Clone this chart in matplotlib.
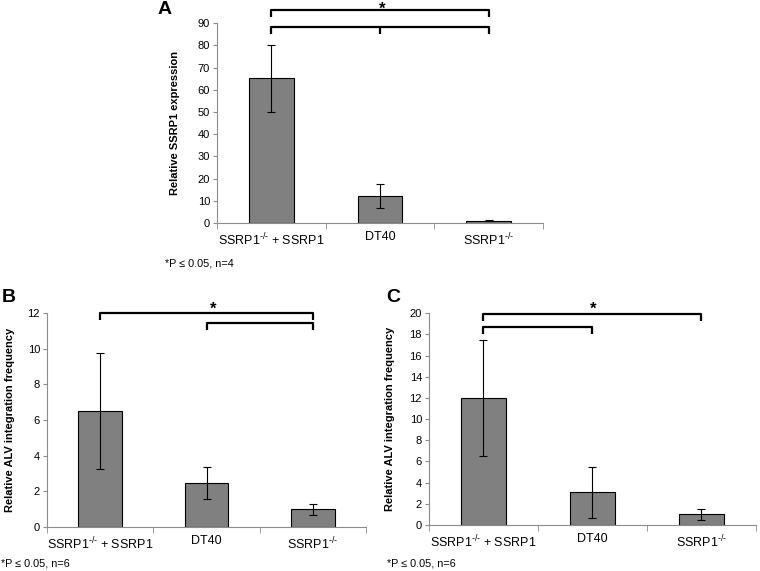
import matplotlib
matplotlib.use("Agg")
import matplotlib.pyplot as plt
import numpy as np

plt.rcParams['font.family'] = ['Liberation Sans', 'DejaVu Sans']
plt.rcParams['mathtext.fontset'] = 'custom'
plt.rcParams['mathtext.rm'] = 'Liberation Sans'
plt.rcParams['mathtext.it'] = 'Liberation Sans'

categories = ["SSRP1$^{\\text{-/-}}$ + SSRP1", "DT40", "SSRP1$^{\\text{-/-}}$"]

a_values = [65.2, 12.3, 1.0]
a_errors = [15.0, 5.4, 0.3]
b_values = [6.5, 2.45, 1.0]
b_errors = [3.25, 0.9, 0.3]
c_values = [12.0, 3.1, 1.0]
c_errors = [5.5, 2.4, 0.5]

a_yticks = list(range(0, 91, 10))
b_yticks = list(range(0, 13, 2))
c_yticks = list(range(0, 21, 2))

BAR = "#808080"
AXC = "#8c8c8c"

fig = plt.figure(figsize=(7.6, 5.71), dpi=100)

def panel(rect, values, errors, yticks, ylabel, labelx):
    ax = fig.add_axes(rect)
    x = np.arange(len(values))
    ax.bar(x, values, width=0.41, color=BAR, edgecolor="black", linewidth=0.8, zorder=2)
    ax.errorbar(x, values, yerr=errors, fmt="none", ecolor="black", elinewidth=0.8,
                capsize=3, capthick=0.8, zorder=3)
    ax.set_xlim(-0.5, 2.5)
    ax.set_ylim(yticks[0], yticks[-1])
    ax.set_yticks(yticks)
    ax.set_xticks(x)
    ax.set_xticklabels(categories, fontsize=9)
    ax.tick_params(axis='x', which='major', length=0, pad=6)
    ax.set_xticks([-0.5, 0.5, 1.5, 2.5], minor=True)
    ax.tick_params(axis='x', which='minor', length=4, color=AXC, direction='out')
    ax.tick_params(axis='y', labelsize=8, length=3, color=AXC, pad=2)
    for s in ["top", "right"]:
        ax.spines[s].set_visible(False)
    for s in ["left", "bottom"]:
        ax.spines[s].set_color(AXC)
        ax.spines[s].set_linewidth(0.8)
    ax.set_ylabel(ylabel, fontsize=8, fontweight='bold')
    ax.yaxis.set_label_coords(labelx, 0.5)
    return ax

def bracket(ax, x0, x1, y, h, mids=()):
    kw = dict(color="black", lw=1.6, clip_on=False, solid_capstyle='butt', zorder=5)
    ax.plot([x0, x0, x1, x1], [y - h, y, y, y - h], **kw)
    for m in mids:
        ax.plot([m, m], [y, y - h], **kw)

axA = panel([0.2855, 0.6095, 0.429, 0.350], a_values, a_errors, a_yticks,
            "Relative SSRP1 expression", -0.113)
bracket(axA, 0, 2, 95.9, 3.0)
bracket(axA, 0, 2, 88.2, 3.0, mids=(1,))
fig.text(382/760, 1 - 9/571, "*", ha='center', va='center', fontsize=12, fontweight='bold')

axB = panel([0.0618, 0.077, 0.42, 0.3748], b_values, b_errors, b_yticks,
            "Relative ALV integration frequency", -0.1)
bracket(axB, 0, 2, 12.0, 0.4)
bracket(axB, 1, 2, 11.44, 0.4)
fig.text(213/760, 1 - 309/571, "*", ha='center', va='center', fontsize=12, fontweight='bold')

axC = panel([0.5645, 0.0806, 0.43, 0.371], c_values, c_errors, c_yticks,
            "Relative ALV integration frequency", -0.104)
bracket(axC, 0, 2, 19.9, 0.66)
bracket(axC, 0, 1, 18.7, 0.66)
fig.text(593/760, 1 - 309/571, "*", ha='center', va='center', fontsize=12, fontweight='bold')

fig.text(165/760, 1 - 10/571, "A", fontsize=14, fontweight='bold', ha='center', va='center')
fig.text(9/760, 1 - 298/571, "B", fontsize=14, fontweight='bold', ha='center', va='center')
fig.text(393/760, 1 - 298/571, "C", fontsize=14, fontweight='bold', ha='center', va='center')

fig.text(165/760, 1 - 263/571, "*P \u2264 0.05, n=4", fontsize=7.8, ha='left', va='center')
fig.text(1/760, 1 - 564/571, "*P \u2264 0.05, n=6", fontsize=7.8, ha='left', va='center')
fig.text(387/760, 1 - 564/571, "*P \u2264 0.05, n=6", fontsize=7.8, ha='left', va='center')

fig.savefig("out.png", dpi=100)
